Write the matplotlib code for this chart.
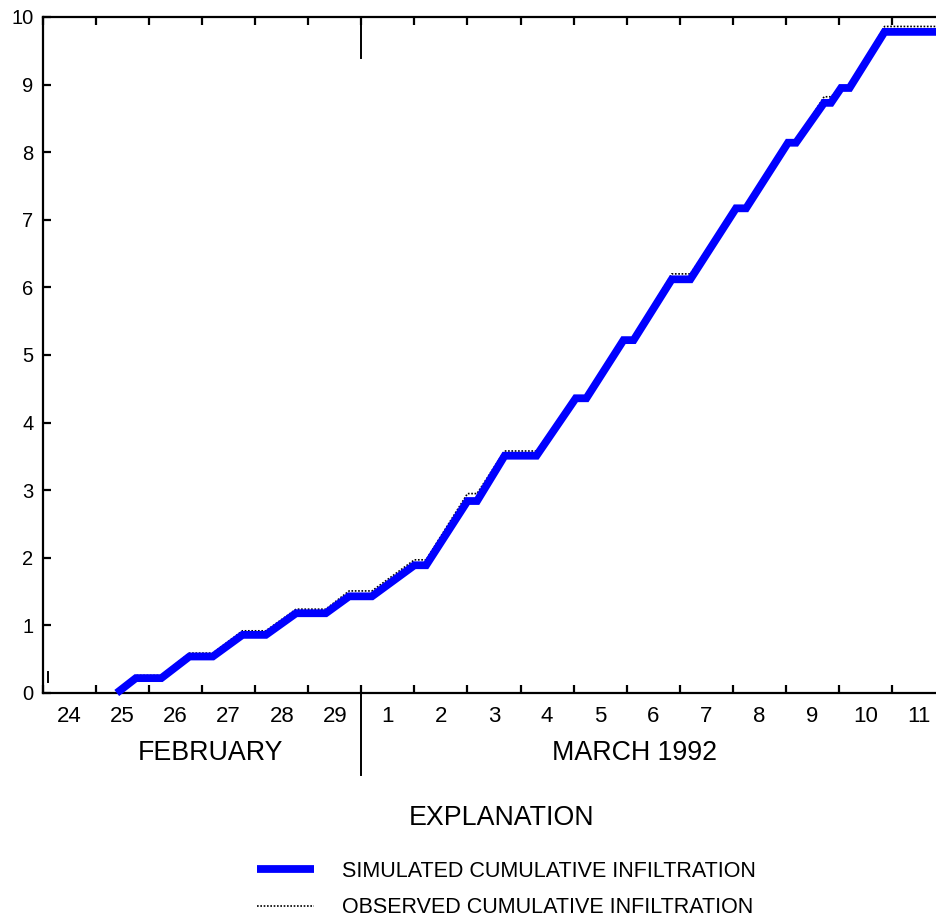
import matplotlib
matplotlib.use("Agg")
import matplotlib.pyplot as plt
from matplotlib.transforms import blended_transform_factory

plt.rcParams['font.family'] = ['Liberation Sans', 'DejaVu Sans']

# time in days after 0000 hours, February 24, 1992
sim_days = [1.39, 1.75, 2.23, 2.76, 3.20, 3.76, 4.20, 4.77, 5.33, 5.77, 6.20,
            7.00, 7.22, 8.00, 8.18, 8.70, 9.30, 10.04, 10.24, 10.94, 11.13,
            11.85, 12.20, 13.06, 13.25, 14.04, 14.19, 14.72, 14.85, 15.04,
            15.20, 15.86, 16.98]
# cumulative infiltration, simulated
sim_cum = [0.0, 0.22, 0.22, 0.54, 0.54, 0.86, 0.86, 1.18, 1.18, 1.43, 1.43,
           1.89, 1.89, 2.84, 2.84, 3.51, 3.51, 4.36, 4.36, 5.22, 5.22,
           6.12, 6.12, 7.17, 7.17, 8.14, 8.14, 8.73, 8.73, 8.95,
           8.95, 9.78, 9.78]
obs_days = sim_days
# cumulative infiltration, observed
obs_cum = [0.0, 0.26, 0.26, 0.59, 0.59, 0.92, 0.92, 1.24, 1.24, 1.51, 1.51,
           1.97, 1.97, 2.95, 2.95, 3.58, 3.58, 4.39, 4.39, 5.25, 5.25,
           6.20, 6.20, 7.19, 7.19, 8.16, 8.16, 8.82, 8.82, 8.97,
           8.97, 9.86, 9.86]

day_labels = ['24', '25', '26', '27', '28', '29', '1', '2', '3', '4', '5',
              '6', '7', '8', '9', '10', '11']
month_break = 6  # 0000 March 1

fig = plt.figure(figsize=(9.37, 9.18), dpi=100)
ax = fig.add_axes([43 / 937, 225 / 918, 901 / 937, 676 / 918])

ax.plot(sim_days, sim_cum, color='#0000ff', lw=5.6, clip_on=False,
        solid_joinstyle='miter', solid_capstyle='butt',
        label='SIMULATED CUMULATIVE INFILTRATION', zorder=3)
ax.plot(obs_days, obs_cum, color='black', lw=1.2, ls=(0, (1, 1)),
        clip_on=False, label='OBSERVED CUMULATIVE INFILTRATION', zorder=2)

ax.set_xlim(0, 16.98)
ax.set_ylim(0, 10)

for s in ax.spines.values():
    s.set_linewidth(1.6)

ax.set_yticks(range(0, 11))
ax.tick_params(axis='y', which='major', direction='in', length=6, width=1.6,
               left=True, right=True, labelsize=14.5, pad=7)
ax.set_xticks(range(0, 17))
ax.set_xticks([d + 0.5 for d in range(17)], minor=True)
ax.set_xticklabels([])
ax.set_xticklabels(day_labels, minor=True)
ax.tick_params(axis='x', which='major', direction='in', length=6, width=1.6,
               top=True, bottom=True)
ax.tick_params(axis='x', which='minor', length=0, labelsize=16, pad=9)

# month separator and the long tick at the top
trans = blended_transform_factory(ax.transData, ax.transAxes)
ax.plot([month_break, month_break], [0, -0.121], color='black', lw=1.4,
        transform=trans, clip_on=False)
ax.plot([month_break, month_break], [1, 0.939], color='black', lw=1.4,
        transform=trans, clip_on=False)
ax.plot([0.1, 0.1], [0.016, 0.031], color='black', lw=1.4,
        transform=trans, clip_on=False)

fig.text(210 / 937, 1 - 753 / 918, 'FEBRUARY', ha='center', va='center',
         fontsize=19.3)
fig.text(634 / 937, 1 - 753 / 918, 'MARCH 1992', ha='center', va='center',
         fontsize=19.3)
fig.text(502 / 937, 1 - 818 / 918, 'EXPLANATION', ha='center', va='center',
         fontsize=19.3)

ax.legend(loc='upper left', bbox_to_anchor=(257 / 937, 1 - 861 / 918),
          bbox_transform=fig.transFigure, frameon=False, fontsize=15.5,
          handlelength=2.65, handletextpad=1.3, labelspacing=0.7,
          borderpad=0, borderaxespad=0)

fig.savefig('out.png', dpi=100)
